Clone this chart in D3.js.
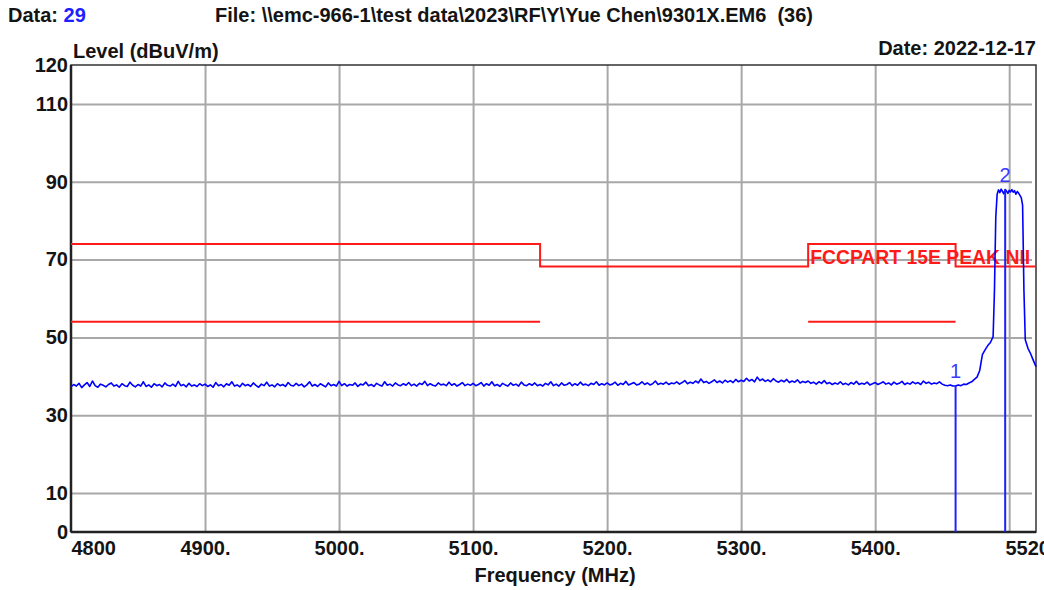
<!DOCTYPE html>
<html><head><meta charset="utf-8">
<script src="https://cdn.jsdelivr.net/npm/d3@7"></script>
<style>
html,body{margin:0;padding:0;background:#fff;}
svg{display:block;font-family:"Liberation Sans",Arial,sans-serif;}
</style></head>
<body>
<svg id="chart" width="1044" height="590"></svg>
<script>
// ---------- data ----------
const yTicks = [0, 10, 30, 50, 70, 90, 110, 120];
const yGrid = [10, 30, 50, 70, 90, 110];
const xTicks = [4800, 4900, 5000, 5100, 5200, 5300, 5400, 5520];
const xTickLabels = ["4800", "4900.", "5000.", "5100.", "5200.", "5300.", "5400.", "5520"];
const xGrid = [4900, 5000, 5100, 5200, 5300, 5400, 5500];

// noise floor sweep 4800..5460 MHz
const sweepStart = 4800, sweepEnd = 5460;
const noiseLevel = [
 37.3,37.9,37.5,38.2,37.1,37.8,38.4,37.4,38.8,37.6,37.2,38.0,37.7,37.3,37.9,38.3,37.5,37.8,37.2,38.1,37.6,37.4,38.5,37.7,37.3,
 37.9,37.5,38.6,37.4,37.8,37.2,38.1,37.6,37.9,37.3,38.3,37.7,37.5,38.0,37.4,38.7,37.6,37.9,37.3,38.2,37.5,37.8,37.4,38.1,37.6,
 38.0,37.4,37.8,37.2,38.4,37.6,37.9,37.3,38.1,37.7,38.6,37.5,37.8,37.3,38.2,37.6,37.9,37.4,38.3,37.7,37.2,38.0,37.6,38.5,37.5,
 37.8,37.3,38.1,37.6,37.9,37.4,38.4,37.7,37.5,38.2,37.6,38.0,37.3,37.8,38.6,37.5,37.9,37.4,38.1,37.7,37.3,38.3,37.6,37.9,37.5,
 38.7,37.6,38.1,37.5,37.9,37.7,38.3,37.4,38.0,37.8,38.5,37.6,37.9,37.4,38.2,37.8,37.5,38.6,37.7,38.0,37.5,38.3,37.8,37.6,38.1,
 37.7,38.4,37.6,38.0,37.5,38.2,37.9,38.7,37.6,38.1,37.7,37.5,38.3,37.8,38.0,37.6,38.5,37.7,38.1,37.5,37.9,38.4,37.6,38.0,37.7,
 38.2,37.6,37.9,38.4,37.5,38.1,37.7,38.6,37.6,37.9,37.4,38.2,37.8,37.5,38.3,37.7,38.0,37.5,38.5,37.8,37.6,38.1,37.7,38.3,37.6,
 37.9,37.5,38.2,37.8,38.6,37.6,38.0,37.5,38.3,37.7,37.9,38.4,37.6,38.1,37.7,38.5,37.8,38.0,37.6,38.2,37.9,38.6,37.7,38.1,37.8,
 38.3,37.8,38.0,38.5,37.7,38.2,37.9,38.7,37.8,38.1,38.4,37.8,38.0,38.6,37.9,38.3,37.8,38.1,38.8,37.9,38.2,38.0,38.5,37.9,38.3,
 38.1,38.6,38.0,38.4,38.9,38.1,38.5,38.2,38.8,38.3,39.3,38.4,38.7,38.2,38.6,39.1,38.4,38.8,38.3,39.0,38.5,38.9,38.4,39.2,38.6,
 39.0,38.7,39.5,38.8,39.2,38.6,39.8,38.9,39.3,38.7,39.1,38.6,39.4,38.8,38.5,39.0,38.6,39.2,38.4,38.8,38.5,39.1,38.3,38.7,38.4,
 38.8,38.2,38.5,38.0,38.6,38.2,38.9,38.1,38.4,37.9,38.3,38.0,38.6,37.9,38.2,37.8,38.4,38.0,38.7,37.9,38.2,38.0,38.5,37.8,38.1,
 38.4,37.9,38.2,38.6,38.0,38.3,37.8,38.5,38.0,38.2,38.7,37.9,38.3,38.0,38.6,38.1,38.4,37.9,38.8,38.2,38.5,38.0,38.3,38.1,38.6,
 38.0,37.7,37.6,37.8,37.5,37.5
];
// emission band
const peakFreq = [5462,5464,5466,5468,5470,5472,5474,5476,5478,5480,5482,5484,5486,5488,5489,5490,5491,5492,5493,5494,5495,5496,5497,5498,5499,5500,5501,5502,5503,5504,5505,5506,5507,5508,5509,5510,5511,5512,5514,5516,5518,5520];
const peakLevel = [37.8,37.6,38.0,37.9,38.3,38.6,39.2,39.8,41.5,45.6,46.8,47.9,48.7,50.2,62,81,86.8,87.9,87.2,88.1,87.5,86.9,88.0,87.6,87.0,87.8,87.4,88.0,87.3,87.7,86.8,87.5,87.1,86.5,85.9,84,62,49.4,47.2,45.8,44.1,42.5];

// limit lines
const upperLimitFreq = [4800, 5150, 5150, 5350, 5350, 5460, 5460, 5520];
const upperLimitLevel = [74, 74, 68.2, 68.2, 74, 74, 68.2, 68.2];
const lowerLimitFreq = [[4800, 5150], [5350, 5460]];
const lowerLimitLevel = 54;
const limitLabel = "FCCPART 15E PEAK NII";
const limitLabelFreq = 5350;

// markers
const markerNames = ["1", "2"];
const markerFreq = [5460, 5497];
const markerLevel = [37.5, 88.0];

// ---------- layout ----------
const svg = d3.select("#chart");
const L = 71, R = 1036, T = 65, B = 532;
const x = d3.scaleLinear().domain([4800, 5520]).range([L, R]);
const y = d3.scaleLinear().domain([0, 120]).range([B, T]);
const font = "bold 20px 'Liberation Sans', Arial, sans-serif";
const ink = "#141414";

svg.append("rect").attr("width",1044).attr("height",590).attr("fill","#fff");

// header texts
const h = svg.append("text").attr("x", 8).attr("y", 22).style("font", font).attr("fill", ink);
h.append("tspan").text("Data: ");
h.append("tspan").attr("fill", "#2020ff").text("29");
svg.append("text").attr("x", 215).attr("y", 22).style("font", font).attr("fill", ink)
  .style("white-space","pre")
  .text("File: \\\\emc-966-1\\test data\\2023\\RF\\Y\\Yue Chen\\9301X.EM6  (36)");
svg.append("text").attr("x", 73).attr("y", 58).style("font", font).attr("fill", ink).text("Level (dBuV/m)");
svg.append("text").attr("x", R).attr("y", 55).attr("text-anchor","end").style("font", font).attr("fill", ink).text("Date: 2022-12-17");
svg.append("text").attr("x", 555).attr("y", 582).attr("text-anchor","middle").style("font", font).attr("fill", ink).text("Frequency (MHz)");

// grid
const gy = svg.append("g").attr("transform", `translate(${L},0)`)
  .call(d3.axisLeft(y).tickValues(yGrid).tickSize(-(R - L - 4)).tickFormat(""));
gy.select(".domain").remove();
gy.selectAll("line").attr("stroke", "#a8a8a8").attr("stroke-width", 2);
const gx = svg.append("g").attr("transform", `translate(0,${B})`)
  .call(d3.axisBottom(x).tickValues(xGrid).tickSize(-(B - T)).tickFormat(""));
gx.select(".domain").remove();
gx.selectAll("line").attr("stroke", "#a8a8a8").attr("stroke-width", 2);

// frame
svg.append("rect").attr("x", L).attr("y", T).attr("width", R - L).attr("height", B - T)
  .attr("fill", "none").attr("stroke", "#333").attr("stroke-width", 1.5);
svg.append("line").attr("x1", L).attr("x2", L).attr("y1", T).attr("y2", B).attr("stroke", "#222").attr("stroke-width", 2.5);
svg.append("line").attr("x1", L).attr("x2", R).attr("y1", B).attr("y2", B).attr("stroke", "#222").attr("stroke-width", 2.5);

// y axis labels
const ay = svg.append("g").attr("transform", `translate(${L},0)`)
  .call(d3.axisLeft(y).tickValues(yTicks).tickSize(0).tickPadding(3));
ay.select(".domain").remove();
ay.selectAll("text").style("font", font).attr("fill", ink);

// x axis labels
const ax = svg.append("g").attr("transform", `translate(0,${B})`)
  .call(d3.axisBottom(x).tickValues(xTicks).tickSize(0).tickPadding(9)
    .tickFormat((d, i) => xTickLabels[i]));
ax.select(".domain").remove();
ax.selectAll("text").style("font", font).attr("fill", ink)
  .attr("text-anchor", (d, i) => (i === 0 || i === xTicks.length - 1) ? "start" : "middle")
  .attr("dx", (d, i) => i === 0 ? 0 : (i === xTicks.length - 1 ? -31 : 0));

// limit lines
const line = d3.line().x(d => x(d[0])).y(d => y(d[1]));
svg.append("path").datum(upperLimitFreq.map((f, i) => [f, upperLimitLevel[i]]))
  .attr("d", line).attr("fill", "none").attr("stroke", "#ff1a1a").attr("stroke-width", 2);
lowerLimitFreq.forEach(seg => {
  svg.append("path").datum(seg.map(f => [f, lowerLimitLevel]))
    .attr("d", line).attr("fill", "none").attr("stroke", "#ff1a1a").attr("stroke-width", 2);
});
svg.append("text").attr("x", x(limitLabelFreq) + 2).attr("y", y(68.2) - 3)
  .style("font", "bold 20px 'Liberation Sans', Arial, sans-serif").attr("fill", "#ff1a1a")
  .attr("textLength", 220).attr("lengthAdjust", "spacingAndGlyphs").text(limitLabel);

// trace
const step = (sweepEnd - sweepStart) / (noiseLevel.length - 1);
const trace = noiseLevel.map((v, i) => [sweepStart + i * step, v])
  .concat(peakFreq.map((f, i) => [f, peakLevel[i]]));
svg.append("path").datum(trace).attr("d", line).attr("fill", "none")
  .attr("stroke", "#0000ff").attr("stroke-width", 1.6).attr("stroke-linejoin", "round");

// markers
markerFreq.forEach((f, i) => {
  svg.append("line").attr("x1", x(f)).attr("x2", x(f)).attr("y1", y(markerLevel[i])).attr("y2", y(0))
    .attr("stroke", "#2020ff").attr("stroke-width", 2);
  svg.append("text").attr("x", x(f)).attr("y", y(markerLevel[i]) - 8).attr("text-anchor", "middle")
    .style("font", "20px 'Liberation Sans', Arial, sans-serif").attr("fill", "#3a3aff").text(markerNames[i]);
});
</script>
</body></html>
